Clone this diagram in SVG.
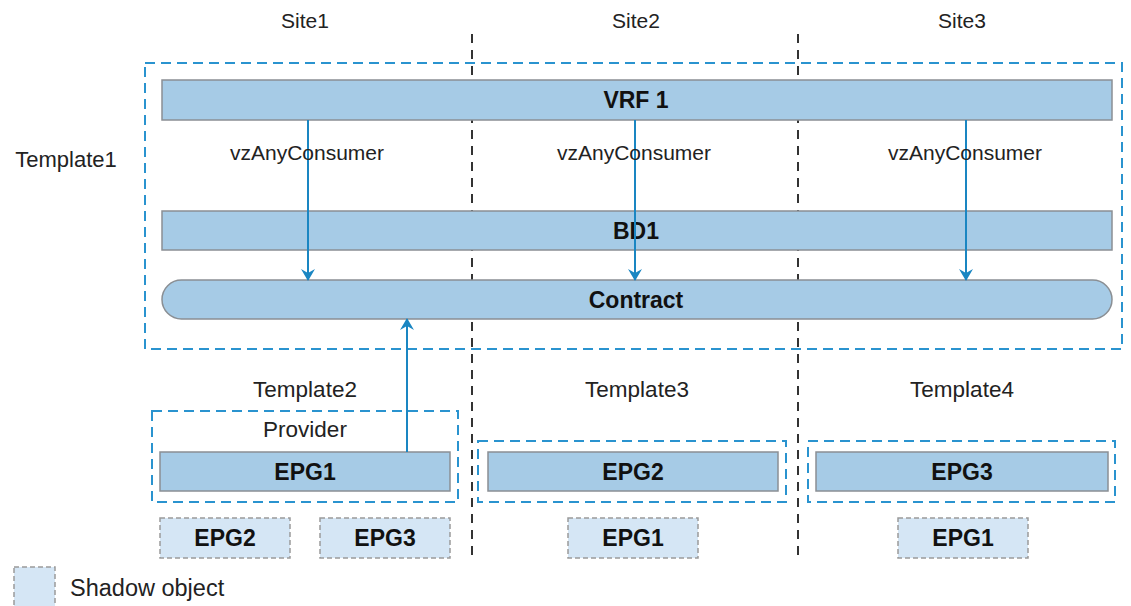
<svg xmlns="http://www.w3.org/2000/svg" width="1131" height="606" viewBox="0 0 1131 606">
<defs>
<style>
.lbl{font-family:"Liberation Sans",Arial,sans-serif;font-size:22.5px;fill:#222;text-anchor:middle}
.vz{font-family:"Liberation Sans",Arial,sans-serif;font-size:21px;fill:#222;text-anchor:middle}
.b{font-family:"Liberation Sans",Arial,sans-serif;font-size:23px;font-weight:bold;fill:#111;text-anchor:middle}
.bar{fill:#a6cbe6;stroke:#8a8f94;stroke-width:1.5}
.shadow{fill:#d5e6f5;stroke:#9a9a9a;stroke-width:1.5;stroke-dasharray:5 3}
.tmpl{fill:none;stroke:#2a93cf;stroke-width:2;stroke-dasharray:10 6}
.div{stroke:#333;stroke-width:2;stroke-dasharray:9 7;fill:none}
.arr{stroke:#1a86c2;stroke-width:2;fill:none;marker-end:url(#ah)}
</style>
<marker id="ah" viewBox="0 0 12 14" refX="11" refY="7" markerWidth="12" markerHeight="14" markerUnits="userSpaceOnUse" orient="auto">
<path d="M0,0 L12,7 L0,14 L4,7 Z" fill="#1a86c2"/>
</marker>
</defs>
<rect width="1131" height="606" fill="#ffffff"/>

<g id="sites">
<text class="lbl" x="305" y="28" style="font-size:21px">Site1</text>
<text class="lbl" x="636" y="28" style="font-size:21px">Site2</text>
<text class="lbl" x="962" y="28" style="font-size:21px">Site3</text>
<line class="div" x1="472" y1="34" x2="472" y2="558"/>
<line class="div" x1="798" y1="34" x2="798" y2="558"/>
</g>

<g id="template1">
<rect class="tmpl" x="145" y="63" width="977" height="286"/>
<text class="lbl" x="66" y="167" style="font-size:22px">Template1</text>
</g>

<g id="vrf1">
<rect class="bar" x="162" y="80" width="950" height="40"/>
<text class="b" x="636" y="108">VRF 1</text>
</g>

<g id="bd1">
<rect class="bar" x="162" y="211" width="950" height="39"/>
<text class="b" x="636" y="239">BD1</text>
</g>

<g id="contract">
<rect class="bar" x="162" y="280" width="950" height="39" rx="19.5" ry="19.5"/>
<text class="b" x="636" y="308">Contract</text>
</g>

<g id="template2">
<text class="lbl" x="305" y="397">Template2</text>
<rect class="tmpl" x="152" y="411" width="306" height="91"/>
<text class="lbl" x="305" y="437">Provider</text>
</g>
<g id="t2-epg1">
<rect class="bar" x="160" y="452" width="290" height="39"/>
<text class="b" x="305" y="480">EPG1</text>
</g>
<g id="s1-epg2-shadow">
<rect class="shadow" x="160" y="518" width="130" height="40"/>
<text class="b" x="225" y="546">EPG2</text>
</g>
<g id="s1-epg3-shadow">
<rect class="shadow" x="320" y="518" width="130" height="40"/>
<text class="b" x="385" y="546">EPG3</text>
</g>

<g id="template3">
<text class="lbl" x="637" y="397">Template3</text>
<rect class="tmpl" x="478" y="441" width="308" height="61"/>
</g>
<g id="t3-epg2">
<rect class="bar" x="488" y="452" width="290" height="39"/>
<text class="b" x="633" y="480">EPG2</text>
</g>
<g id="s2-epg1-shadow">
<rect class="shadow" x="568" y="518" width="130" height="40"/>
<text class="b" x="633" y="546">EPG1</text>
</g>

<g id="template4">
<text class="lbl" x="962" y="397">Template4</text>
<rect class="tmpl" x="808" y="441" width="307" height="61"/>
</g>
<g id="t4-epg3">
<rect class="bar" x="816" y="452" width="292" height="39"/>
<text class="b" x="962" y="480">EPG3</text>
</g>
<g id="s3-epg1-shadow">
<rect class="shadow" x="898" y="518" width="130" height="40"/>
<text class="b" x="963" y="546">EPG1</text>
</g>

<g id="legend">
<rect class="shadow" x="14" y="567" width="41" height="42"/>
<text class="lbl" x="70" y="596" style="text-anchor:start;font-size:23.5px">Shadow object</text>
</g>

<g id="connectors">
<line class="arr" x1="308" y1="120" x2="308" y2="280"/>
<line class="arr" x1="635" y1="120" x2="635" y2="280"/>
<line class="arr" x1="966" y1="120" x2="966" y2="280"/>
<line class="arr" x1="407" y1="452" x2="407" y2="319"/>
<text class="vz" x="307" y="160">vzAnyConsumer</text>
<text class="vz" x="634" y="160">vzAnyConsumer</text>
<text class="vz" x="965" y="160">vzAnyConsumer</text>
</g>
</svg>
